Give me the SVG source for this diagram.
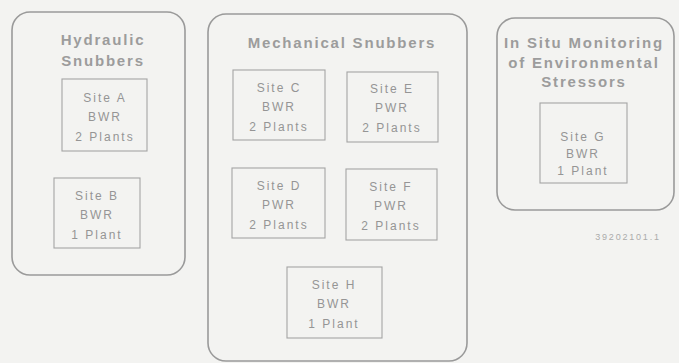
<svg xmlns="http://www.w3.org/2000/svg" width="679" height="363" viewBox="0 0 679 363">
<style>
.bg{fill:#f3f3f1}
.outer{fill:none;stroke:#9a9a9a;stroke-width:1.6}
.inner{fill:none;stroke:#a4a4a4;stroke-width:1.1}
.title{font-family:"Liberation Sans",Arial,sans-serif;font-size:15px;font-weight:bold;letter-spacing:1.8px;fill:#9c9c9c;text-anchor:middle}
.site{font-family:"Liberation Sans",Arial,sans-serif;font-size:12px;letter-spacing:2px;fill:#959595;text-anchor:middle}
.ref{font-family:"Liberation Sans",Arial,sans-serif;font-size:9px;letter-spacing:1.8px;fill:#ababab;text-anchor:middle}
</style>
<rect class="bg" x="0" y="0" width="679" height="363"/>
<g id="hydraulic">
<rect class="outer" x="12" y="12" width="173" height="263" rx="18"/>
<text class="title" x="103" y="45">Hydraulic</text>
<text class="title" x="103" y="66">Snubbers</text>
</g>
<g id="siteA">
<rect class="inner" x="62" y="79" width="85" height="72"/>
<text class="site" x="105" y="102">Site A</text>
<text class="site" x="105" y="121">BWR</text>
<text class="site" x="105" y="141">2 Plants</text>
</g>
<g id="siteB">
<rect class="inner" x="54" y="178" width="86" height="70"/>
<text class="site" x="97" y="200">Site B</text>
<text class="site" x="97" y="219">BWR</text>
<text class="site" x="97" y="239">1 Plant</text>
</g>
<g id="mechanical">
<rect class="outer" x="208" y="14" width="259" height="347" rx="18"/>
<text class="title" x="342" y="48">Mechanical Snubbers</text>
</g>
<g id="siteC">
<rect class="inner" x="233" y="70" width="92" height="70"/>
<text class="site" x="279" y="92">Site C</text>
<text class="site" x="279" y="111">BWR</text>
<text class="site" x="279" y="131">2 Plants</text>
</g>
<g id="siteE">
<rect class="inner" x="347" y="72" width="91" height="70"/>
<text class="site" x="392" y="93">Site E</text>
<text class="site" x="392" y="112">PWR</text>
<text class="site" x="392" y="132">2 Plants</text>
</g>
<g id="siteD">
<rect class="inner" x="232" y="168" width="93" height="70"/>
<text class="site" x="279" y="190">Site D</text>
<text class="site" x="279" y="209">PWR</text>
<text class="site" x="279" y="229">2 Plants</text>
</g>
<g id="siteF">
<rect class="inner" x="346" y="169" width="91" height="71"/>
<text class="site" x="391" y="191">Site F</text>
<text class="site" x="391" y="210">PWR</text>
<text class="site" x="391" y="230">2 Plants</text>
</g>
<g id="siteH">
<rect class="inner" x="287" y="267" width="95" height="71"/>
<text class="site" x="334" y="289">Site H</text>
<text class="site" x="334" y="308">BWR</text>
<text class="site" x="334" y="328">1 Plant</text>
</g>
<g id="insitu">
<rect class="outer" x="497" y="18" width="177" height="192" rx="18"/>
<text class="title" x="584" y="48">In Situ Monitoring</text>
<text class="title" x="584" y="68">of Environmental</text>
<text class="title" x="584" y="87">Stressors</text>
</g>
<g id="siteG">
<rect class="inner" x="540" y="103" width="87" height="80"/>
<text class="site" x="583" y="141">Site G</text>
<text class="site" x="583" y="158">BWR</text>
<text class="site" x="583" y="175">1 Plant</text>
</g>
<g id="connectors"></g>
<text class="ref" x="628" y="240">39202101.1</text>
</svg>
